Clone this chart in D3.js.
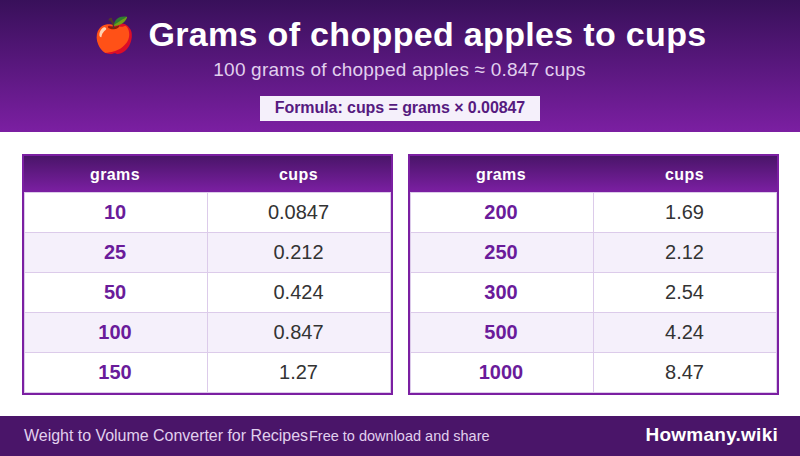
<!DOCTYPE html>
<html>
<head>
<meta charset="utf-8">
<script src="https://cdn.jsdelivr.net/npm/d3@7"></script>
<style>
  html, body { margin: 0; padding: 0; background: #fff; }
  svg { display: block; font-family: "Liberation Sans", Arial, sans-serif; }
</style>
</head>
<body>
<div id="root"></div>
<script>
const columns = ['grams', 'cups'];
const leftGrams = ['10', '25', '50', '100', '150'];
const leftCups = ['0.0847', '0.212', '0.424', '0.847', '1.27'];
const rightGrams = ['200', '250', '300', '500', '1000'];
const rightCups = ['1.69', '2.12', '2.54', '4.24', '8.47'];

const width = 800;
const height = 456;

const chart = d3.select('#root')
  .append('svg')
  .attr('width', width)
  .attr('height', height);

// Gradients
const defs = chart.append('defs');
const gradient = (id, top, bottom) => {
  const g = defs.append('linearGradient')
    .attr('id', id)
    .attr('x1', 0).attr('y1', 0).attr('x2', 0).attr('y2', 1);
  g.append('stop').attr('offset', 0).attr('stop-color', top);
  g.append('stop').attr('offset', 1).attr('stop-color', bottom);
};
gradient('headGrad', '#38105a', '#7b1fa2');
gradient('thGrad', '#4a1569', '#7b1fa2');

////// HEADER //////
chart.append('rect')
  .attr('width', width)
  .attr('height', 132)
  .attr('fill', 'url(#headGrad)');

chart.append('text')
  .attr('x', 115)
  .attr('y', 47)
  .attr('text-anchor', 'middle')
  .attr('font-family', '"Noto Color Emoji", sans-serif')
  .attr('font-size', 34)
  .text('🍎');

chart.append('text')
  .attr('x', 427.5)
  .attr('y', 46)
  .attr('text-anchor', 'middle')
  .attr('font-size', 34)
  .attr('font-weight', 700)
  .attr('letter-spacing', 0.33)
  .attr('fill', '#fff')
  .text('Grams of chopped apples to cups');

chart.append('text')
  .attr('x', 399.5)
  .attr('y', 76)
  .attr('text-anchor', 'middle')
  .attr('font-size', 19)
  .attr('letter-spacing', 0.2)
  .attr('fill', '#e1d0ee')
  .text('100 grams of chopped apples ≈ 0.847 cups');

chart.append('rect')
  .attr('x', 260)
  .attr('y', 96)
  .attr('width', 280)
  .attr('height', 25)
  .attr('fill', '#f5f0fb');

chart.append('text')
  .attr('x', 400)
  .attr('y', 113)
  .attr('text-anchor', 'middle')
  .attr('font-size', 16)
  .attr('font-weight', 700)
  .attr('letter-spacing', -0.07)
  .attr('fill', '#561a80')
  .text('Formula: cups = grams × 0.00847');

////// TABLES //////
const drawTable = (left, grams, cups) => {
  const g = chart.append('g');
  const outerW = 371;
  const rowsData = grams.map((d, i) => ({grams: d, cups: cups[i]}));

  const x = d3.scaleOrdinal().domain(columns).range([left + 1, left + 185]);
  const colW = {grams: 184, cups: 183};
  const y = d3.scaleBand().domain(d3.range(grams.length)).range([192, 392]);

  // outer frame
  g.append('rect')
    .attr('x', left).attr('y', 154)
    .attr('width', outerW).attr('height', 241)
    .attr('fill', '#7b1fa2');

  // header cell
  g.append('rect')
    .attr('x', left + 2).attr('y', 156)
    .attr('width', 367).attr('height', 36)
    .attr('fill', 'url(#thGrad)');

  g.selectAll('.th')
    .data(columns)
    .enter()
    .append('text')
    .attr('x', d => x(d) + colW[d] / 2)
    .attr('y', 180)
    .attr('text-anchor', 'middle')
    .attr('font-size', 16)
    .attr('font-weight', 700)
    .attr('letter-spacing', 0.4)
    .attr('fill', '#fff')
    .text(d => d);

  const rows = g.selectAll('.row')
    .data(rowsData)
    .enter()
    .append('g');

  rows.append('rect')
    .attr('x', left + 2)
    .attr('y', (d, i) => y(i))
    .attr('width', 367)
    .attr('height', y.bandwidth() + 1)
    .attr('fill', (d, i) => i % 2 ? '#f5f0fb' : '#fff');

  // cell borders
  rows.append('rect')
    .attr('x', left + 2.5)
    .attr('y', (d, i) => y(i) + 0.5)
    .attr('width', 366)
    .attr('height', y.bandwidth())
    .attr('fill', 'none')
    .attr('stroke', '#dccbea');

  rows.append('line')
    .attr('x1', left + 185.5)
    .attr('x2', left + 185.5)
    .attr('y1', (d, i) => y(i))
    .attr('y2', (d, i) => y(i) + y.bandwidth() + 1)
    .attr('stroke', '#dccbea');

  rows.append('text')
    .attr('x', x('grams') + colW.grams / 2)
    .attr('y', (d, i) => y(i) + 27)
    .attr('text-anchor', 'middle')
    .attr('font-size', 20)
    .attr('font-weight', 700)
    .attr('fill', '#6a1b9a')
    .text(d => d.grams);

  rows.append('text')
    .attr('x', x('cups') + colW.cups / 2)
    .attr('y', (d, i) => y(i) + 27)
    .attr('text-anchor', 'middle')
    .attr('font-size', 20)
    .attr('fill', '#333')
    .text(d => d.cups);
};

drawTable(22, leftGrams, leftCups);
drawTable(408, rightGrams, rightCups);

////// FOOTER //////
chart.append('rect')
  .attr('y', 416)
  .attr('width', width)
  .attr('height', 40)
  .attr('fill', '#4a1569');

chart.append('text')
  .attr('x', 24)
  .attr('y', 441)
  .attr('font-size', 16)
  .attr('letter-spacing', -0.03)
  .attr('fill', '#e1d0ee')
  .text('Weight to Volume Converter for Recipes');

chart.append('text')
  .attr('x', 309)
  .attr('y', 441)
  .attr('font-size', 14.5)
  .attr('fill', '#e1d0ee')
  .text('Free to download and share');

chart.append('text')
  .attr('x', 778)
  .attr('y', 441)
  .attr('text-anchor', 'end')
  .attr('font-size', 19)
  .attr('font-weight', 700)
  .attr('letter-spacing', 0.25)
  .attr('fill', '#fff')
  .text('Howmany.wiki');
</script>
</body>
</html>
